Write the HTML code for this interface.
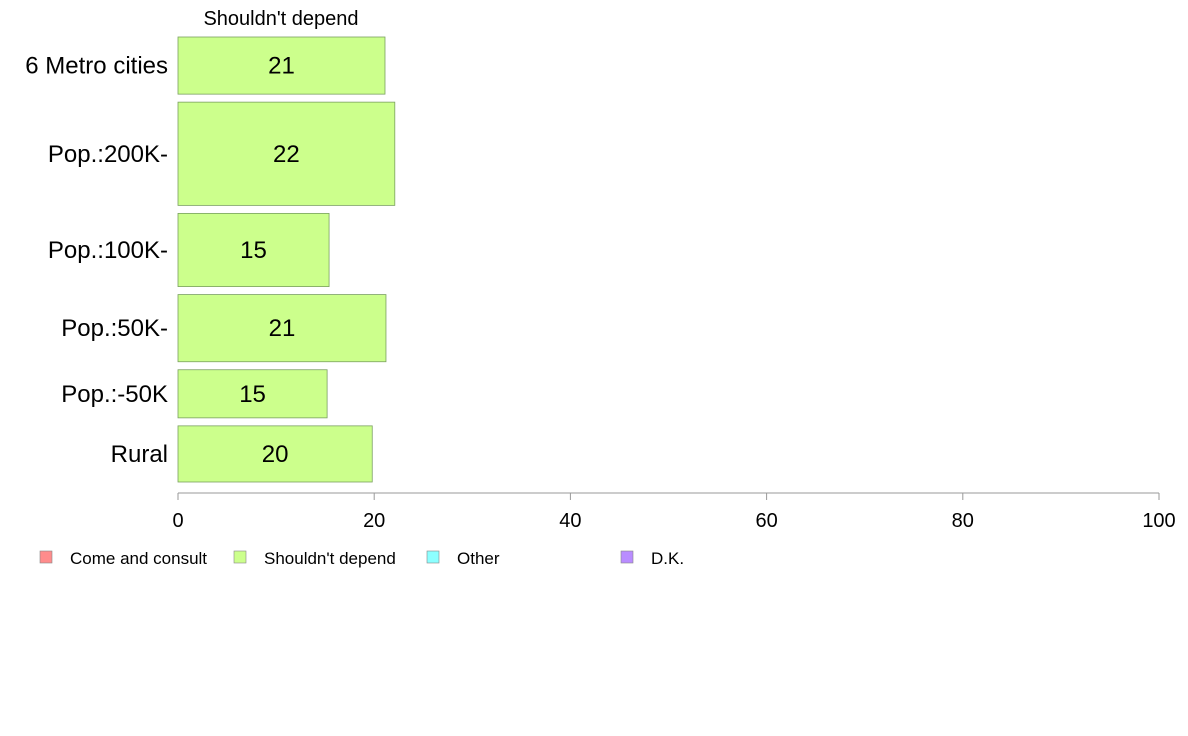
<!DOCTYPE html>
<html><head><meta charset="utf-8"><style>
body{margin:0;background:#fff;font-family:"Liberation Sans",Arial,sans-serif}
svg{display:block}
</style></head><body>
<svg id="chart" width="1188" height="736" font-family="Liberation Sans, Arial, sans-serif"></svg>
<script>
const categories=["6 Metro cities","Pop.:200K-","Pop.:100K-","Pop.:50K-","Pop.:-50K","Rural"];
const values=[21.1,22.1,15.4,21.2,15.2,19.8];
const labels=["21","22","15","21","15","20"];
const weights=[57,103,73,67,48,56];
const ticks=[0,20,40,60,80,100];
const legendItems=["Come and consult","Shouldn't depend","Other","D.K."];
const legendColors=["#ff8c8c","#ccff8c","#8cffff","#b98cff"];
const NS="http://www.w3.org/2000/svg";
const svg=document.getElementById('chart');
function mk(t,a,txt){const e=document.createElementNS(NS,t);for(const k in a)e.setAttribute(k,a[k]);if(txt!=null)e.textContent=txt;svg.appendChild(e);return e;}
const x0=178,x1=1159;
const xs=v=>x0+(x1-x0)*v/100;
const barTop=37,gap=8,barBottom=482;
const totalW=weights.reduce((a,b)=>a+b,0);
const avail=barBottom-barTop-gap*(categories.length-1);
let t=mk('text',{x:281,y:25,'font-size':20,'text-anchor':'middle',fill:'#000'},"Shouldn't depend");


let yy=barTop;
categories.forEach((c,i)=>{
  const h=avail*weights[i]/totalW;
  const r=mk('rect',{x:x0,y:yy,width:xs(values[i])-x0,height:h,fill:'#ccff8c',stroke:'#7aa060','stroke-width':0.8});
  
  
  const v=mk('text',{x:(x0+xs(values[i]))/2,y:yy+h/2+8,'font-size':24,'text-anchor':'middle',fill:'#000'},labels[i]);
  
  
  const l=mk('text',{x:168,y:yy+h/2+8,'font-size':24,'text-anchor':'end',fill:'#000'},c);
  
  
  yy+=h+gap;
});
const ax=mk('line',{x1:x0,x2:x1,y1:493,y2:493,stroke:'#999','stroke-width':1});


ticks.forEach(v=>{
  const tk=mk('line',{x1:xs(v),x2:xs(v),y1:493,y2:500,stroke:'#999','stroke-width':1});
  
  
  const tl=mk('text',{x:xs(v),y:527,'font-size':20,'text-anchor':'middle',fill:'#000'},String(v));
  
  
});
const lx=[40,234,427,621];
legendItems.forEach((n,i)=>{
  const s=mk('rect',{x:lx[i],y:551,width:12,height:12,fill:legendColors[i],stroke:'#888','stroke-width':0.6});
  
  
  const lt=mk('text',{x:lx[i]+30,y:564,'font-size':17,fill:'#000'},n);
  
  
});
</script>
</body></html>
